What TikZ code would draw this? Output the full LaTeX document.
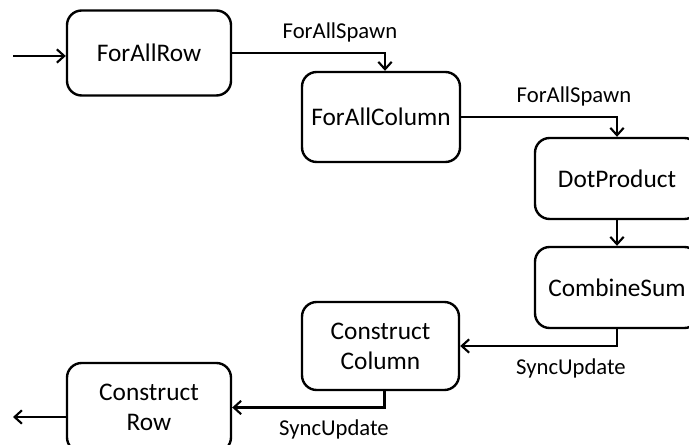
\documentclass[tikz,border=0pt]{standalone}
\usepackage{fontspec}
\setmainfont{Carlito}
\usetikzlibrary{arrows.meta,calc}
\begin{document}
\begin{tikzpicture}[x=0.75pt,y=-0.75pt,
  task/.style={draw, line width=1.8pt, rounded corners=11pt, align=center,
    inner sep=0pt, font=\fontsize{19}{22.5}\selectfont},
  flow/.style={line width=1.8pt, -{Straight Barb[length=5.5pt,width=10pt,line width=1.6pt]}},
  lbl/.style={font=\fontsize{17}{20}\selectfont, inner sep=0pt, anchor=base}]
\path[use as bounding box, clip] (0,0) rectangle (689,445);
\fill[white] (0,0) rectangle (689,445);

% task boxes
\node[task, minimum width=123pt, minimum height=63.75pt] (row)   at (149,53)    {ForAllRow};
\node[task, minimum width=118.5pt, minimum height=67.5pt] (col)  at (381,117)   {ForAllColumn};
\node[task, minimum width=123pt, minimum height=60.75pt] (dot)   at (617,178.5) {DotProduct};
\node[task, minimum width=123pt, minimum height=60.75pt] (sum)   at (617,287.5) {CombineSum};
\node[task, minimum width=117.75pt, minimum height=66pt] (ccol)  at (380.5,346) {Construct\\Column};
\node[task, minimum width=123pt, minimum height=66.75pt] (crow)  at (149,407.5) {Construct\\Row};

% free ends of the entry and exit arrows
\coordinate (src)  at (13,56);
\coordinate (sink) at (13,417);

% connectors
\draw[flow] (src) -- (src -| row.west);
\draw[flow] (row.east) -| ([xshift=3pt]col.north);
\draw[flow] (col.east) -| (dot.north);
\draw[flow] (dot) -- (sum);
\draw[flow] (sum.south) |- (ccol.east);
\draw[flow] ([xshift=3pt]ccol.south) |- (crow.east);
\draw[flow] (sink -| crow.west) -- (sink);

% connector labels
\node[lbl] (l1) at (340,39)  {ForAllSpawn};
\node[lbl] (l2) at (574,103) {ForAllSpawn};
\node[lbl] (l3) at (571,374) {SyncUpdate};
\node[lbl] (l4) at (334,435) {SyncUpdate};
\end{tikzpicture}
\end{document}
